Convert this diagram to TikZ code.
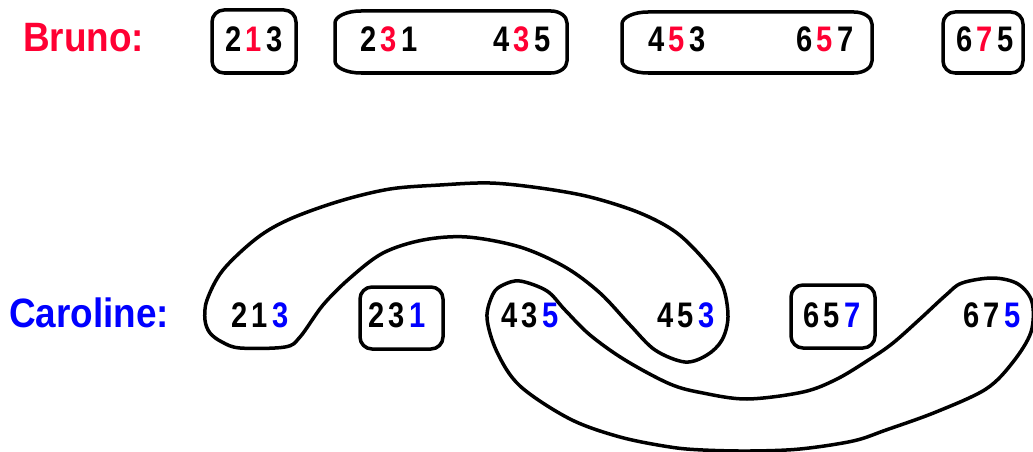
\documentclass[tikz,border=0pt]{standalone}
\usepackage{fontspec}
\newfontfamily\dgfont[FakeStretch=0.82]{Liberation Sans}
\newfontfamily\lbfont[FakeStretch=0.9]{Liberation Sans}
\definecolor{bred}{RGB}{255,0,51}
\definecolor{bblue}{RGB}{0,0,255}
\newcommand\trp[3]{#1\kern4pt#2\kern4pt#3}
\newcommand\rd[1]{\textcolor{bred}{#1}}
\newcommand\bl[1]{\textcolor{bblue}{#1}}
\newcommand\ebox[6]{%
 \draw[boxline] ({#1+#5},#2) -- ({#3-#6},#2) .. controls ({#3-0.45*#6},#2) and (#3,{#2+0.45*12}) .. (#3,{#2+12})
   -- (#3,{#4-12}) .. controls (#3,{#4-0.45*12}) and ({#3-0.45*#6},#4) .. ({#3-#6},#4)
   -- ({#1+#5},#4) .. controls ({#1+0.45*#5},#4) and (#1,{#4-0.45*12}) .. (#1,{#4-12})
   -- (#1,{#2+12}) .. controls (#1,{#2+0.45*12}) and ({#1+0.45*#5},#2) .. ({#1+#5},#2) -- cycle;}
\tikzset{
  num/.style={font=\dgfont\bfseries\fontsize{35.5}{40}\selectfont, anchor=base, inner sep=0pt},
  who/.style={font=\lbfont\bfseries\fontsize{41}{46}\selectfont, anchor=base west, inner sep=0pt},
  boxline/.style={line width=3.5pt, line join=round},
  rbox/.style={boxline, rounded corners=12pt},
  loopline/.style={line width=3.5pt, line join=round}
}
\begin{document}
\begin{tikzpicture}[x=1pt,y=-1pt]
\useasboundingbox (0,0) rectangle (1033,452);
% labels
\node[who, text=bred] (bruno) at (23,52) {Bruno:};
\node[who, text=bblue] (caroline) at (9,327) {Caroline:};
% top row
\node[num] (b1) at (254,52) {\trp{2}{\rd{1}}{3}};
\node[num] (b2) at (389,52) {\trp{2}{\rd{3}}{1}};
\node[num] (b3) at (522,52) {\trp{4}{\rd{3}}{5}};
\node[num] (b4) at (677,52) {\trp{4}{\rd{5}}{3}};
\node[num] (b5) at (825,52) {\trp{6}{\rd{5}}{7}};
\node[num] (b6) at (985,52) {\trp{6}{\rd{7}}{5}};
\draw[rbox] (212,10) rectangle (296,73);
\ebox{335}{11}{567}{73}{26}{16}
\ebox{622}{12}{872}{73}{26}{18}
\draw[rbox] (943,12) rectangle (1023,73);
% bottom row
\node[num] (c1) at (260,327) {\trp{2}{1}{\bl{3}}};
\node[num] (c2) at (397,327) {\trp{2}{3}{\bl{1}}};
\node[num] (c3) at (530,327) {\trp{4}{3}{\bl{5}}};
\node[num] (c4) at (686,327) {\trp{4}{5}{\bl{3}}};
\node[num] (c5) at (832,327) {\trp{6}{5}{\bl{7}}};
\node[num] (c6) at (992,327) {\trp{6}{7}{\bl{5}}};
\draw[rbox] (360,287) rectangle (443,349);
\draw[rbox] (791,285) rectangle (875,348);
% upper loop
\draw[loopline] plot[smooth cycle, tension=0.55] coordinates {
 (240,348) (285,347) (300,337) (323,305) (350,278) (383,253) (423,240) (467,237)
 (520,247) (565,267) (600,293) (630,325) (655,350) (685,362) (707,355)
 (722,340) (728,317) (723,287) (707,263) (677,233) (640,213) (590,197) (540,188)
 (490,183) (440,185) (390,189) (340,201) (290,219) (257,238) (223,270) (207,300)
 (205,320) (210,333) (222,342)};
% lower loop
\draw[loopline] plot[smooth cycle, tension=0.55] coordinates {
 (520,281) (547,291) (565,310) (590,335) (625,360) (670,384) (703,393) (747,399)
 (803,392) (837,379) (870,359) (893,343) (920,319) (946,295) (962,283) (993,278)
 (1018,284) (1032,302) (1031,332) (1013,362) (986,389) (936,412) (886,430) (853,441)
 (800,449) (750,451) (703,450) (670,447) (620,437) (570,419) (520,386) (497,352)
 (487,318) (493,294) (503,285)};
\end{tikzpicture}
\end{document}
